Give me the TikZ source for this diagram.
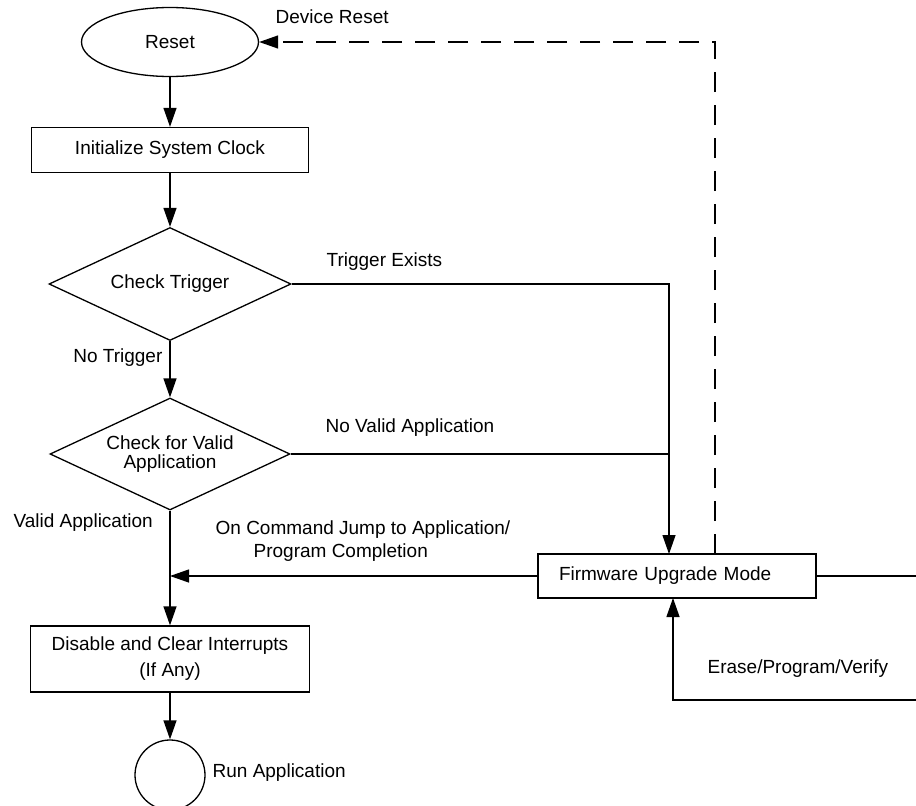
\documentclass[tikz,border=0pt]{standalone}
\usepackage{fontspec}
\setmainfont{Liberation Sans}
\usetikzlibrary{arrows.meta, positioning, shapes.geometric}

\begin{document}
\begin{tikzpicture}[x=1pt, y=-1pt, line width=1.3pt, >={Triangle[length=19pt,width=13pt]}, font=\fontsize{19}{23}\selectfont]
    \tikzstyle{box}=[draw, rectangle, inner sep=0pt, align=center]
    \tikzstyle{decision}=[draw, diamond, shape aspect=2.14, inner sep=0pt, align=center]
    \tikzstyle{terminal}=[draw, ellipse, inner sep=0pt]
    \tikzstyle{annot}=[inner sep=0pt]

    \useasboundingbox (0,0) rectangle (916,806);

%   main column
    \node[terminal, minimum width=177pt, minimum height=69pt] (reset) at (170,42) {Reset};
    \node[box, minimum width=277pt, minimum height=45pt] (init) at (170,150) {Initialize System Clock};
    \node[decision, minimum width=242pt, minimum height=113pt] (trig) at (170,284) {Check Trigger};
    \node[decision, minimum width=240pt, minimum height=112pt, font=\fontsize{19}{19}\selectfont] (valid) at (170,454) {Check for Valid\\Application};
    \node[box, minimum width=279pt, minimum height=66pt, font=\fontsize{19}{26}\selectfont] (dis) at (170,659) {Disable and Clear Interrupts\\(If Any)};
    \node[draw, circle, minimum size=70pt, inner sep=0pt] (run) at (170,775) {};

%   upgrade side
    \node[box, text width=236pt, align=left, inner xsep=21pt, minimum height=44pt] (fw) at (677,576) {Firmware Upgrade Mode};

    \coordinate (fwin) at (669,554);
    \coordinate (dtop) at (715,554);
    \coordinate (loop) at (917,700);
    \coordinate (fwback) at (673,598);

    \draw[->] (reset) -- (init);
    \draw[->] (init) -- (trig);
    \draw[->] (trig) -- (valid);
    \draw[->] (valid) -- (dis);
    \draw[->] (dis) -- (run);

    \draw[->] (trig.east) -| (fwin);
    \draw (valid.east) -- (valid.east -| fwin);
    \draw[->] (fw.west) -- (fw.west -| valid.south);
    \draw[->, dash pattern=on 20pt off 13pt] (dtop) |- (reset.east);
    \draw[->] (fw.east) -| (loop) -| (fwback);

%   labels
    \node[annot, anchor=west] (lreset) at (275,17) {Device Reset};
    \node[annot, anchor=west] (ltrig) at (326,262) {Trigger Exists};
    \node[annot, anchor=east] (lnotrig) at (163,358) {No Trigger};
    \node[annot, anchor=west] (lnovalid) at (325,428) {No Valid Application};
    \node[annot, anchor=west] (lvalid) at (13,523) {Valid Application};
    \node[annot, anchor=west, align=left] (ljump) at (215,541) {On Command Jump to Application/\\\hspace*{38pt}Program Completion};
    \node[annot, anchor=west] (lerase) at (707,669) {Erase/Program/Verify};
    \node[annot, anchor=west] (lrun) at (212,773) {Run Application};
\end{tikzpicture}
\end{document}
